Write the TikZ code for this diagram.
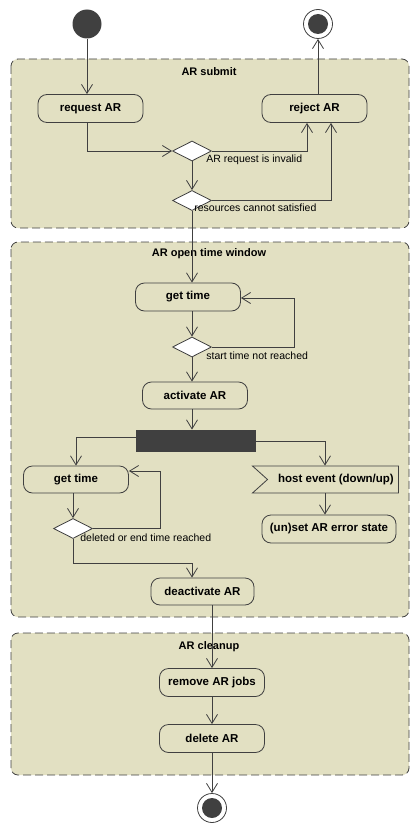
\documentclass[tikz,border=0pt]{standalone}
\usepackage{fontspec}
\setmainfont{Liberation Sans}
\usepackage{tikz}
\usetikzlibrary{arrows.meta, positioning, shapes.geometric, shapes.symbols}
\definecolor{umlfill}{HTML}{E2E0C2}
\definecolor{umlline}{HTML}{404040}
\tikzset{
  action/.style = {draw=umlline, fill=umlfill, rounded corners=9pt,
    align=center, inner sep=0pt, minimum width=105pt, minimum height=28pt,
    font=\fontsize{11.5}{13}\selectfont\bfseries},
  decision/.style = {diamond, draw=umlline, fill=white, aspect=2,
    inner sep=0pt, minimum width=39pt, minimum height=20pt},
  forkbar/.style = {fill=umlline, inner sep=0pt, minimum width=120pt,
    minimum height=22pt},
  signalbox/.style = {signal, signal from=west, signal to=nowhere,
    signal pointer angle=84, draw=umlline, fill=umlfill, inner sep=0pt,
    minimum width=146pt, minimum height=27pt,
    font=\fontsize{11.5}{13}\selectfont\bfseries},
  startnode/.style = {circle, fill=umlline, minimum size=29pt, inner sep=0pt},
  endnode/.style = {circle, draw=umlline, fill=white, minimum size=29pt,
    inner sep=0pt, path picture={\fill[umlline]
      (path picture bounding box.center) circle (10pt);}},
  frame/.style = {draw=umlline, fill=umlfill, dash pattern=on 8pt off 4pt,
    rounded corners=7pt},
  frametitle/.style = {font=\fontsize{11}{13}\selectfont\bfseries},
  guard/.style = {anchor=west, inner sep=0pt,
    font=\fontsize{10.5}{12}\selectfont}
}

\begin{document}
\begin{tikzpicture}[x=1pt, y=-1pt, line width=0.8pt, draw=umlline,
  ->, >={Straight Barb[length=9pt,width=11pt]}]
\useasboundingbox (0,0) rectangle (419,832);

% partitions
\draw[frame, -] (11,59) rectangle (409,228);
\draw[frame, -] (11,242) rectangle (409,617);
\draw[frame, -] (11,633) rectangle (409,775);
\node[frametitle] (tsubmit) at (209,72) {AR submit};
\node[frametitle] (topen) at (209,254) {AR open time window};
\node[frametitle] (tclean) at (209,647) {AR cleanup};

% AR submit
\node[startnode] (init) at (87,24) {};
\node[endnode] (final1) at (318,24) {};
\node[action] (request) at (90.5,108.5) {request AR};
\node[action] (reject) at (314.5,108.5) {reject AR};
\node[decision] (dec1) at (192,151) {};
\node[decision] (dec2) at (192,200.5) {};
\node[guard] (g1) at (206,160) {AR request is invalid};
\node[guard] (g2) at (194,208) {resources cannot satisfied};

% AR open time window
\node[action] (gettime1) at (188,297) {get time};
\node[decision] (dec3) at (192,347) {};
\node[guard] (g3) at (206,356) {start time not reached};
\node[action, minimum height=27pt] (activate) at (195,395.5) {activate AR};
\node[forkbar] (fork) at (196,441) {};
\node[action, minimum height=27pt] (gettime2) at (76,479.5) {get time};
\node[decision] (dec4) at (73,528.5) {};
\node[guard] (g4) at (80,538) {deleted or end time reached};
\node[signalbox] (host) at (333,479.5) {\hspace*{6pt}host event (down/up)};
\node[action, minimum width=134pt] (errstate) at (329,529) {(un)set AR error state};
\node[action, minimum width=103pt, minimum height=27pt] (deactivate) at (202.5,591.5) {deactivate AR};

% AR cleanup
\node[action] (removejobs) at (212,682.5) {remove AR jobs};
\node[action] (delete) at (212,738.5) {delete AR};
\node[endnode] (final2) at (212,808) {};

% flows
\draw (init) -- (init |- request.north);
\draw (init |- request.south) |- (dec1.west);
\draw (dec1.east) -| ([xshift=-7.5pt]reject.south);
\draw (dec1.south) -- (dec2.north);
\draw (dec2.east) -| ([xshift=16.5pt]reject.south);
\draw (final1 |- reject.north) -- (final1.south);
\draw (dec2.south) -- (dec2.south |- gettime1.north);
\draw (dec3 |- gettime1.south) -- (dec3.north);
\draw (dec3.east) -- ++(82,0) |- ([yshift=-1pt]gettime1.east);
\draw (dec3.south) -- (dec3 |- activate.north);
\draw (dec3 |- activate.south) -- (dec3 |- fork.north);
\draw ([yshift=4pt]fork.west) -| (gettime2.north);
\draw (fork.east) -| ([xshift=-8pt]host.north);
\draw (dec4 |- gettime2.south) -- (dec4.north);
\draw (dec4.east) -- ++(67,0) |- ([yshift=8.5pt]gettime2.east);
\draw (dec4.south) -- ++(0,24) -| ([xshift=-10.5pt]deactivate.north);
\draw ([xshift=-8pt]host.south) -- ([xshift=-8pt]host.south |- errstate.north);
\draw (removejobs.north |- deactivate.south) -- (removejobs.north);
\draw (removejobs.south) -- (delete.north);
\draw (delete.south) -- (final2.north);
\end{tikzpicture}
\end{document}
